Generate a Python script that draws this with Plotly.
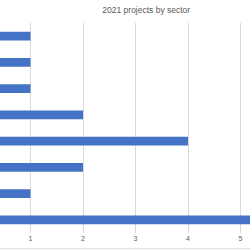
import plotly.graph_objects as go

# Categories (labels are cropped out of the reference), bottom to top
sectors = ["Sector H", "Sector G", "Sector F", "Sector E", "Sector D", "Sector C", "Sector B", "Sector A"]
projects = [6, 1, 2, 4, 2, 1, 1, 1]
x_ticks = [1, 2, 3, 4, 5]

fig = go.Figure(go.Bar(
    y=sectors, x=projects, orientation="h",
    marker=dict(color="#4472C4", line=dict(width=0)),
))

fig.update_layout(
    width=250, height=250,
    margin=dict(l=0, r=0, t=23, b=17),
    paper_bgcolor="white", plot_bgcolor="white",
    bargap=0.66,
    showlegend=False,
    title=dict(text="2021 projects by sector", x=0.585, xanchor="center", y=0.96, yanchor="middle",
               font=dict(family="Liberation Sans, Arial", size=8.5, color="#595959")),
    xaxis=dict(range=[0.419, 5.181], tickvals=x_ticks, showgrid=True, gridcolor="#D9D9D9", gridwidth=1,
               zeroline=False, showline=False, ticks="",
               tickfont=dict(family="Liberation Sans, Arial", size=7, color="#595959")),
    yaxis=dict(showticklabels=False, showgrid=False, zeroline=False, showline=False, ticks=""),
)
fig.add_shape(type="line", xref="paper", yref="paper", x0=0, x1=1, y0=-0.075, y1=-0.075,
              line=dict(color="#D9D9D9", width=1))

fig.write_html("out.html")
